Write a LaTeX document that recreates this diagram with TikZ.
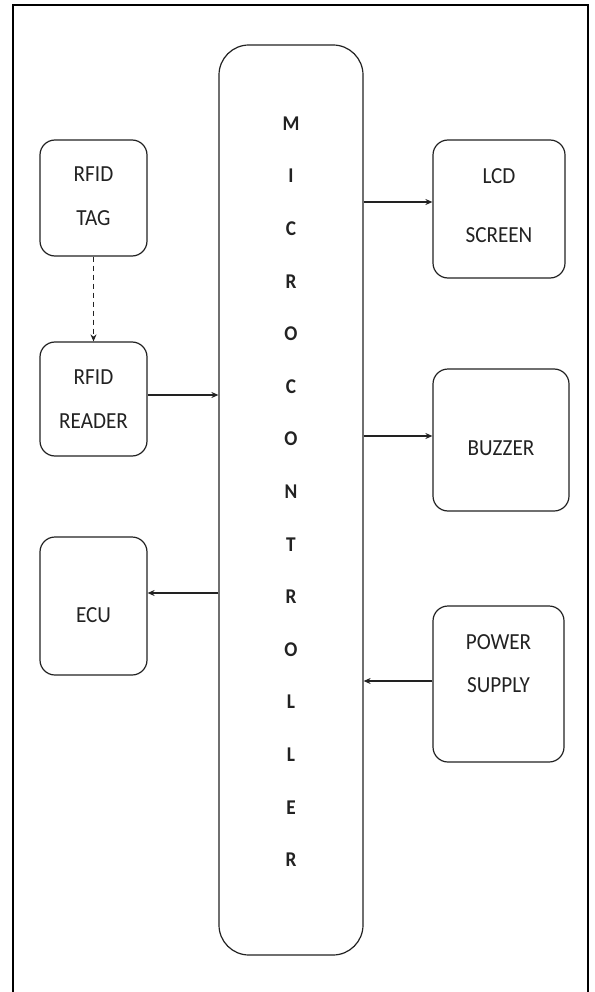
\documentclass[tikz,border=0pt]{standalone}
\usepackage{fontspec}
\setmainfont{Carlito}[FakeStretch=0.92]
\usetikzlibrary{arrows.meta}
\definecolor{ink}{HTML}{222222}
\begin{document}
\begin{tikzpicture}[x=1pt,y=-1pt,
  box/.style={draw=ink, line width=1.2pt, rounded corners=15pt, inner sep=0pt},
  lbl/.style={text=ink, font=\fontsize{23}{23}\selectfont, inner sep=0pt, anchor=center},
  mlet/.style={text=ink, font=\fontsize{21}{21}\selectfont\bfseries, inner sep=0pt, anchor=center},
  arr/.style={draw=ink, line width=1.3pt, -{Stealth[length=7pt,width=6pt]}}]
\useasboundingbox (0,0) rectangle (594,992);
\fill[white] (0,0) rectangle (594,992);
% frame
\draw[line width=2.4pt] (13,992) -- (13,5) -- (588,5) -- (588,992);
% microcontroller
\node[box, rounded corners=30pt, minimum width=144pt, minimum height=910pt] (micro) at (291,500) {};
\foreach \l [count=\i from 0] in {M,I,C,R,O,C,O,N,T,R,O,L,L,E,R}{
  \node[mlet] (m\i) at (291,123.5+52.6*\i) {\l};
}
% left boxes
\node[box, minimum width=107pt, minimum height=116pt] (tag) at (93.5,198) {};
\node[lbl] (tagt1) at (93.5,174) {RFID};
\node[lbl] (tagt2) at (93.5,218) {TAG};
\node[box, minimum width=107pt, minimum height=114pt] (reader) at (93.5,399) {};
\node[lbl] (readt1) at (93.5,377) {RFID};
\node[lbl] (readt2) at (93.5,421) {READER};
\node[box, minimum width=107pt, minimum height=138pt] (ecu) at (93.5,606) {};
\node[lbl] (ecut) at (93.5,615) {ECU};
% right boxes
\node[box, minimum width=132pt, minimum height=138pt] (lcd) at (499,209) {};
\node[lbl] (lcdt1) at (499,176) {LCD};
\node[lbl] (lcdt2) at (499,235) {SCREEN};
\node[box, minimum width=136pt, minimum height=142pt] (buzz) at (501,440) {};
\node[lbl] (buzzt) at (501,448) {BUZZER};
\node[box, minimum width=131pt, minimum height=156pt] (pow) at (498.5,684) {};
\node[lbl] (powt1) at (498.5,642) {POWER};
\node[lbl] (powt2) at (498.5,685) {SUPPLY};
% connectors
\draw[draw=ink, line width=1.2pt, dashed, dash pattern=on 5pt off 4pt, -{Stealth[length=7pt,width=6pt]}] (tag.south) -- (reader.north);
\draw[arr] (reader.east |- 0,395) -- (micro.west |- 0,395);
\draw[arr] (micro.west |- 0,593) -- (ecu.east |- 0,593);
\draw[arr] (micro.east |- 0,202) -- (lcd.west |- 0,202);
\draw[arr] (micro.east |- 0,436) -- (buzz.west |- 0,436);
\draw[arr] (pow.west |- 0,681) -- (micro.east |- 0,681);
\end{tikzpicture}
\end{document}
